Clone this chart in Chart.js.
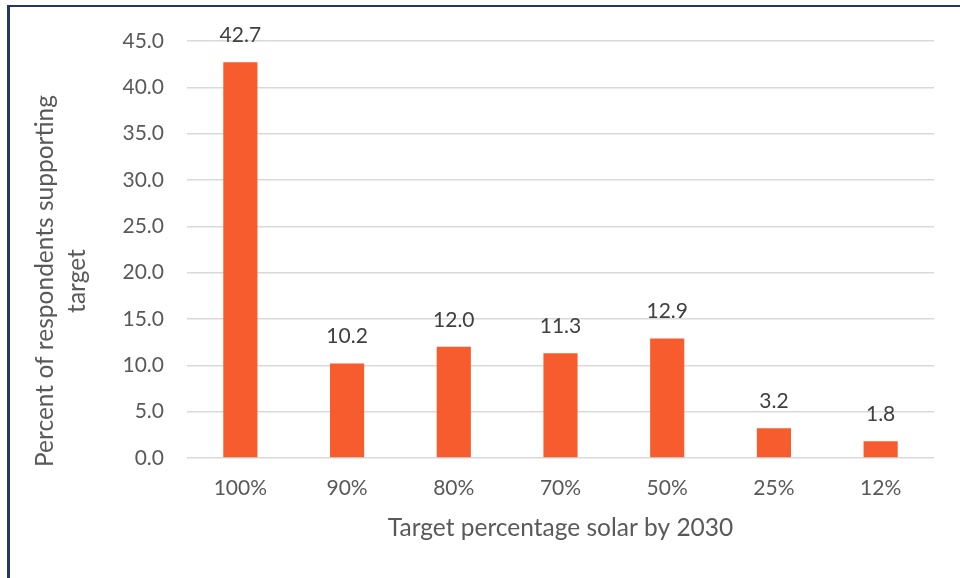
<!DOCTYPE html>
<html>
<head>
<meta charset="utf-8">
<script src="https://cdn.jsdelivr.net/npm/chart.js@4/dist/chart.umd.min.js"></script>
<style>
  html, body { margin: 0; padding: 0; background: #fff; overflow: hidden; }
  #wrap { position: relative; width: 960px; height: 578px; }
  #frame {
    position: absolute; left: 7px; top: 5px; width: 1200px; height: 900px;
    border-left: 3px solid #1f3864; border-top: 2.5px solid #1f3864;
    pointer-events: none;
  }
  canvas { position: absolute; left: 0; top: 0; }
</style>
</head>
<body>
<div id="wrap">
  <canvas id="chart" width="960" height="578"></canvas>
  <div id="frame"></div>
</div>
<script>
"use strict";

// Share of respondents backing each solar target for 2030.

const targets = ["100%", "90%", "80%", "70%", "50%", "25%", "12%"];
const support = [42.7, 10.2, 12.0, 11.3, 12.9, 3.2, 1.8];
const yTitleLines = ["Percent of respondents supporting", "target"];
const xTitle = "Target percentage solar by 2030";

const FONT = "Lato, 'Open Sans', sans-serif";
const AXIS_GREY = "#595959";
const LABEL_GREY = "#404040";
const GRID = "#d9d9d9";
const BAR = "#f65c2e";

// ---- Plugins ----

// value above each bar
const barLabels = {
  id: "barLabels",
  afterDatasetsDraw(chart) {
    const { ctx } = chart;
    const meta = chart.getDatasetMeta(0);
    ctx.save();
    ctx.font = `21px ${FONT}`;
    ctx.fillStyle = LABEL_GREY;
    ctx.textAlign = "center";
    ctx.textBaseline = "alphabetic";
    meta.data.forEach((bar, i) => {
      ctx.fillText(support[i].toFixed(1), bar.x, bar.y - 20);
    });
    ctx.restore();
  },
};

// two-line rotated title on the value axis
const yTitle = {
  id: "yTitle",
  afterDraw(chart) {
    const { ctx } = chart;
    ctx.save();
    ctx.font = `24.5px ${FONT}`;
    ctx.fillStyle = AXIS_GREY;
    ctx.textAlign = "center";
    ctx.textBaseline = "alphabetic";
    const cy = 281;
    const baselines = [53, 85];
    yTitleLines.forEach((line, i) => {
      ctx.save();
      ctx.translate(baselines[i], cy);
      ctx.rotate(-Math.PI / 2);
      ctx.fillText(line, 0, 0);
      ctx.restore();
    });
    ctx.restore();
  },
};

// ---- Chart ----

new Chart(document.getElementById("chart"), {
  type: "bar",
  data: {
    labels: targets,
    datasets: [{
      data: support,
      backgroundColor: BAR,
      barPercentage: 0.32,
      categoryPercentage: 1,
    }],
  },
  options: {
    responsive: false,
    animation: false,
    layout: { padding: { top: 41, right: 26, left: 0, bottom: 0 } },
    plugins: {
      legend: { display: false },
      tooltip: { enabled: false },
    },
    scales: {
      x: {
        grid: { display: false, drawTicks: false },
        border: { display: false },
        ticks: { color: AXIS_GREY, font: { family: FONT, size: 21 }, padding: 18 },
        title: {
          display: true,
          text: xTitle,
          color: AXIS_GREY,
          font: { family: FONT, size: 24.5 },
          padding: { top: 0, bottom: 35 },
        },
        afterFit(scale) { scale.height = 120; },
      },
      y: {
        min: 0,
        max: 45,
        grid: { color: GRID, lineWidth: 1.5, drawTicks: false },
        border: { display: false },
        ticks: {
          stepSize: 5,
          color: AXIS_GREY,
          font: { family: FONT, size: 21 },
          padding: 23,
          callback: (v) => Number(v).toFixed(1),
        },
        afterFit(scale) { scale.width = 187; },
      },
    },
  },
  plugins: [barLabels, yTitle],
});
</script>
</body>
</html>
